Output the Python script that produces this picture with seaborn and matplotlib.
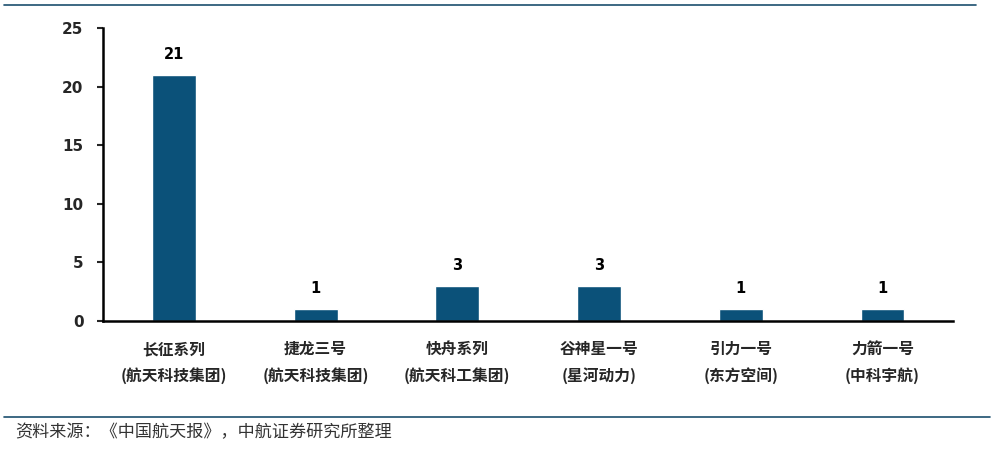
import matplotlib
matplotlib.use("Agg")
import pandas as pd
import seaborn as sns
import matplotlib.pyplot as plt
from matplotlib.lines import Line2D

rockets = ["长征系列\n(航天科技集团)", "捷龙三号\n(航天科技集团)", "快舟系列\n(航天科工集团)",
           "谷神星一号\n(星河动力)", "引力一号\n(东方空间)", "力箭一号\n(中科宇航)"]
launches = [21, 1, 3, 3, 1, 1]
y_ticks = [0, 5, 10, 15, 20, 25]

sns.set_style("white")
plt.rcParams["font.family"] = ["DejaVu Sans", "Noto Sans CJK SC"]

df = pd.DataFrame({"rocket": rockets, "count": launches})

fig = plt.figure(figsize=(9.91, 4.51), dpi=100)
ax = fig.add_axes([0.104, 0.288, 0.858, 0.650])

sns.barplot(data=df, x="rocket", y="count", color="#0b5179", width=0.31,
            saturation=1, ax=ax)

for i, v in enumerate(launches):
    ax.text(i, v + 1.1, str(v), ha="center", va="bottom", fontsize=10.5,
            fontweight="bold", color="black")

ax.set_ylim(0, 25)
ax.set_xlim(-0.5, 5.5)
ax.set_yticks(y_ticks)
ax.set_xlabel("")
ax.set_ylabel("")
for side in ["top", "right"]:
    ax.spines[side].set_visible(False)
for side in ["left", "bottom"]:
    ax.spines[side].set_color("black")
    ax.spines[side].set_linewidth(1.8)

ax.tick_params(axis="y", left=True, length=4, width=1.5, pad=10, labelsize=11)
ax.tick_params(axis="x", bottom=False, pad=11, labelsize=11.3)
for lbl in ax.get_yticklabels():
    lbl.set_fontweight("bold")
for lbl in ax.get_xticklabels():
    lbl.set_fontweight("bold")
    lbl.set_family(["Noto Sans CJK SC", "DejaVu Sans"])
    lbl.set_linespacing(1.75)

fig.add_artist(Line2D([0.004, 0.985], [0.988, 0.988], color="#1b4f6e", lw=1.2))
fig.add_artist(Line2D([0.004, 0.999], [0.075, 0.075], color="#1b4f6e", lw=1.2))
fig.text(0.015, 0.042, "资料来源：《中国航天报》，中航证券研究所整理", fontsize=12.3,
         color="#333333", va="center", ha="left",
         family=["Noto Sans CJK SC", "DejaVu Sans"])

fig.savefig("out.png", dpi=100)
